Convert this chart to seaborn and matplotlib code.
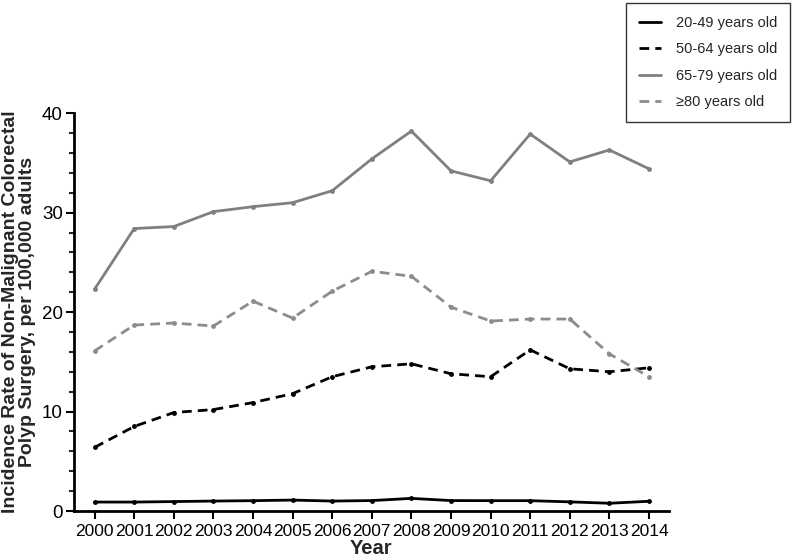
import matplotlib
matplotlib.use("Agg")
import matplotlib.pyplot as plt
import seaborn as sns
import pandas as pd
from matplotlib.ticker import MultipleLocator

years = list(range(2000, 2015))
age_20_49 = [0.9, 0.9, 0.95, 1.0, 1.04, 1.1, 1.0, 1.05, 1.27, 1.05, 1.04, 1.04, 0.92, 0.78, 0.98]
age_50_64 = [6.4, 8.5, 9.9, 10.2, 10.9, 11.8, 13.5, 14.5, 14.8, 13.8, 13.5, 16.2, 14.3, 14.0, 14.4]
age_65_79 = [22.3, 28.4, 28.6, 30.1, 30.6, 31.0, 32.2, 35.4, 38.2, 34.2, 33.2, 37.9, 35.1, 36.3, 34.4]
age_80p = [16.1, 18.7, 18.9, 18.6, 21.1, 19.4, 22.1, 24.1, 23.6, 20.5, 19.1, 19.3, 19.3, 15.8, 13.5]
labels = ["20-49 years old", "50-64 years old", "65-79 years old", "\u226580 years old"]

series = [age_20_49, age_50_64, age_65_79, age_80p]
colors = ["black", "black", "#808080", "#8c8c8c"]
styles = ["-", (0, (3.5, 2.2)), "-", (0, (3.5, 2.2))]

sns.set_style("white")
plt.rcParams["font.family"] = ["Liberation Sans", "DejaVu Sans"]

fig = plt.figure(figsize=(8, 5.58), dpi=100)
ax = fig.add_axes([0.0925, 0.0842, 0.7435, 0.713])

for vals, lab, c, ls in zip(series, labels, colors, styles):
    df = pd.DataFrame({"Year": years, "Rate": vals})
    sns.lineplot(data=df, x="Year", y="Rate", ax=ax, color=c, linewidth=2,
                 linestyle=ls, marker="o", markersize=3.5, markeredgewidth=0,
                 label=lab, legend=False)

ax.set_xlim(1999.48, 2014.5)
ax.set_ylim(0, 40)
ax.set_xticks(years)
ax.set_xticklabels([str(y) for y in years])
ax.yaxis.set_major_locator(MultipleLocator(10))
ax.yaxis.set_minor_locator(MultipleLocator(2))
ax.tick_params(axis="both", which="major", direction="out", length=6, width=1.5,
               colors="black", left=True, bottom=True, pad=3)
ax.tick_params(axis="x", which="major", labelsize=12.5)
ax.tick_params(axis="y", which="major", labelsize=13.5, pad=2)
ax.tick_params(axis="y", which="minor", direction="out", length=3.5, width=1.5, left=True)
for s in ["top", "right"]:
    ax.spines[s].set_visible(False)
for s in ["left", "bottom"]:
    ax.spines[s].set_linewidth(2)
    ax.spines[s].set_color("black")

ax.set_xlabel("Year", fontsize=14.5, fontweight="bold", labelpad=0)
ax.set_ylabel("Incidence Rate of Non-Malignant Colorectal\nPolyp Surgery, per 100,000 adults",
              fontsize=14, fontweight="bold", labelpad=4, linespacing=1.05)

handles, labs = ax.get_legend_handles_labels()
leg = fig.legend(handles, labs, loc="upper right", bbox_to_anchor=(0.988, 0.995),
                 fontsize=10.5, frameon=True, fancybox=False, edgecolor="black",
                 handlelength=1.5, labelspacing=0.85, borderpad=0.9, handletextpad=1.0,
                 borderaxespad=0)
leg.get_frame().set_linewidth(1.0)
for h in leg.legend_handles:
    h.set_marker("")

fig.savefig("out.png", dpi=100)
